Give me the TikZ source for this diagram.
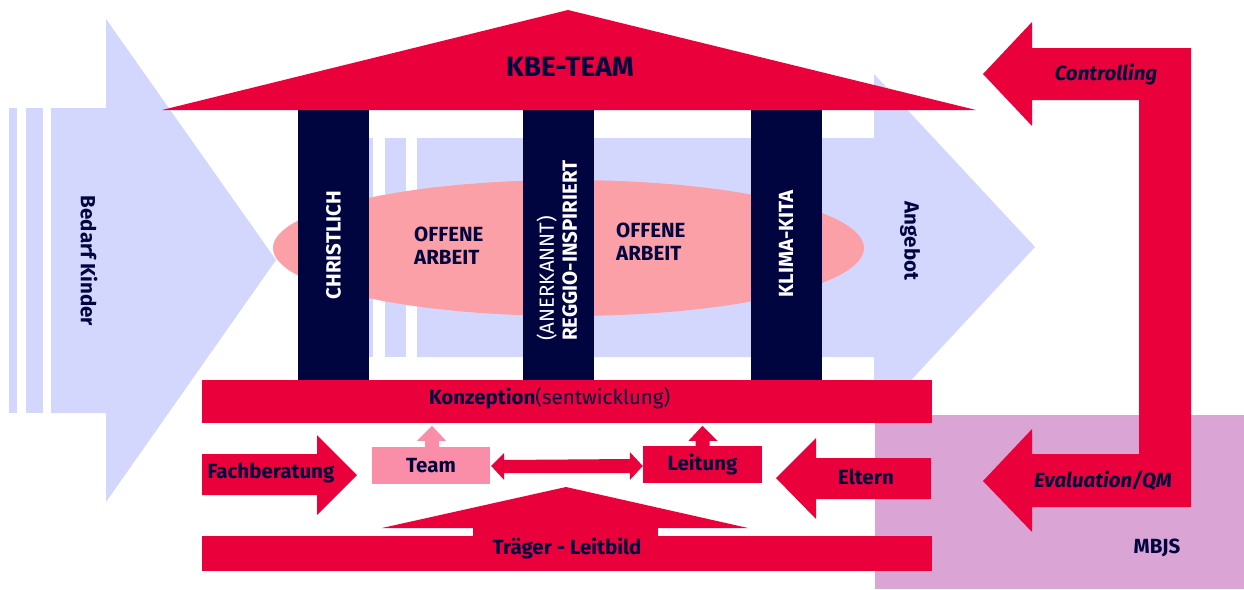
\documentclass[tikz,border=0pt]{standalone}
\usepackage{fontspec}
\setmainfont{Fira Sans}
\usetikzlibrary{calc}
\definecolor{lav}{HTML}{D4D7FD}
\definecolor{kred}{HTML}{EA003A}
\definecolor{navy}{HTML}{00053F}
\definecolor{ellpink}{HTML}{FCA0A8}
\definecolor{teampink}{HTML}{FA8EA8}
\definecolor{mbjscol}{HTML}{DAA5D4}
\begin{document}
\begin{tikzpicture}[x=1pt,y=-1pt,
  lbl/.style={font=\bfseries\fontsize{20.5}{23}\selectfont, text=navy, inner sep=0pt},
  lbli/.style={font=\bfseries\itshape\fontsize{20.5}{23}\selectfont, text=navy, inner sep=0pt},
  pillar/.style={fill=navy, draw=none, minimum width=71pt, minimum height=270pt, inner sep=0pt},
  piltxt/.style={font=\bfseries\fontsize{20.5}{23}\selectfont, text=white, rotate=90, inner sep=0pt},
  redfill/.style={fill=kred, draw=none},
  lavfill/.style={fill=lav, draw=none},
  bar/.style={fill=kred, draw=none, inner sep=0pt},
  smallbox/.style={draw=none, inner sep=0pt, minimum height=37pt, minimum width=118pt}]
\useasboundingbox (0,0) rectangle (1244,589);
\fill[white] (0,0) rectangle (1244,589);
% left lavender arrow (Bedarf Kinder)
\fill[lavfill] (9,108) rectangle (17,413);
\fill[lavfill] (26,108) rectangle (43,413);
\fill[lavfill] (51,108) -- (106,108) -- (106,19) -- (276,260) -- (106,502) -- (106,413) -- (51,413) -- cycle;
% right lavender arrow (Angebot)
\fill[lavfill] (363,138) rectangle (373,357);
\fill[lavfill] (385,138) rectangle (406,357);
\fill[lavfill] (417,138) -- (874,138) -- (874,74) -- (1035,247) -- (874,420) -- (874,357) -- (417,357) -- cycle;
% MBJS area
\node[fill=mbjscol, draw=none, inner sep=0pt, minimum width=369pt, minimum height=174pt, anchor=north west] (mbjsbox) at (875,415) {};
\node[lbl] (mbjs) at (1157,548) {MBJS};
% ellipse
\fill[ellpink] (568.5,248) ellipse [x radius=295.5, y radius=68];
% pillars
\node[pillar] (p1) at (333.5,245) {};
\node[pillar] (p2) at (558,245) {};
\node[pillar] (p3) at (786,245) {};
\node[piltxt] (t1) at (333.5,245) {CHRISTLICH};
\node[piltxt, anchor=west, align=left, font=\fontsize{20.5}{23}\selectfont] (t2) at (557,341) {(ANERKANNT)\\\bfseries REGGIO-INSPIRIERT};
\node[piltxt] (t3) at (786,244) {KLIMA-KITA};
% offene arbeit
\node[lbl, anchor=west, align=left, font=\bfseries\fontsize{20.5}{23}\selectfont] (oa1) at (414,246) {OFFENE\\ARBEIT};
\node[lbl, anchor=west, align=left, font=\bfseries\fontsize{20.5}{23}\selectfont] (oa2) at (616,242) {OFFENE\\ARBEIT};
% roof
\fill[redfill] (162,110) -- (568,10) -- (976,110) -- cycle;
\node[lbl, font=\bfseries\fontsize{28}{32}\selectfont] (kbe) at (570,67) {KBE-TEAM};
% side labels
\node[lbl, rotate=-90] (bedarf) at (89,261) {Bedarf Kinder};
\node[lbl, rotate=-90] (angebot) at (910,241) {Angebot};
% Konzeption bar
\node[bar, minimum width=730pt, minimum height=43pt] (konz) at (567,401.5) {};
\node[lbl] (konztxt) at (549.5,398) {\textbf{Konzeption}\mdseries(sentwicklung)};
% Team and Leitung
\node[smallbox, fill=teampink] (team) at (431,465.5) {};
\node[lbl] at (team.center) {Team};
\node[smallbox, fill=kred, minimum width=119pt] (leitung) at (702.5,464.5) {};
\node[lbl] at (leitung.center) {Leitung};
% small up arrows
\fill[teampink] ($(team.north)+(-6,0)$) -- ++(0,-6) -- ++(-8,0) -- ($(team.north)+(1,-21)$) -- ($(team.north)+(15,-6)$) -- ++(-7,0) -- ++(0,6) -- cycle;
\fill[redfill] ($(leitung.north)+(-7,0)$) -- ++(0,-5) -- ++(-7,0) -- ($(leitung.north)+(0,-20)$) -- ($(leitung.north)+(15,-5)$) -- ++(-8,0) -- ++(0,5) -- cycle;
% double arrow team <-> leitung
\fill[redfill] ($(team.east)+(1,0.5)$) -- ++(13,-13) -- ++(0,7) -- ($(leitung.west)+(-13,-5.5)$) -- ++(0,-7) -- ($(leitung.west)+(0,1.5)$) -- ++(-13,14) -- ++(0,-7) -- ($(team.east)+(14,7.5)$) -- ++(0,7) -- cycle;
% Fachberatung arrow
\fill[redfill] (202,454) -- (317,454) -- (317,435) -- (357,475) -- (317,515) -- (317,495) -- (202,495) -- cycle;
\node[lbl] (fach) at (271,473) {Fachberatung};
% Eltern arrow
\fill[redfill] (776,478) -- (816,438) -- (816,458) -- (931,458) -- (931,499) -- (816,499) -- (816,519) -- cycle;
\node[lbl] (eltern) at (866,477) {Eltern};
% Traeger
\fill[redfill] (382,528) -- (566,487) -- (748,528) -- cycle;
\fill[redfill] (473,527) rectangle (658,537);
\node[bar, minimum width=730pt, minimum height=35pt] (traeger) at (567,553.5) {};
\node[lbl] (traegertxt) at (567,548) {Träger - Leitbild};
% U arrow
\fill[redfill] (983,74) -- (1032,22) -- (1032,48) -- (1191,48) -- (1191,507) -- (1032,507) -- (1032,532) -- (983,481) -- (1032,429) -- (1032,454) -- (1139,454) -- (1139,100) -- (1032,100) -- (1032,126) -- cycle;
\node[lbli] (ctrl) at (1106,74) {Controlling};
\node[lbli] (eval) at (1103,481) {Evaluation/QM};
\end{tikzpicture}
\end{document}
